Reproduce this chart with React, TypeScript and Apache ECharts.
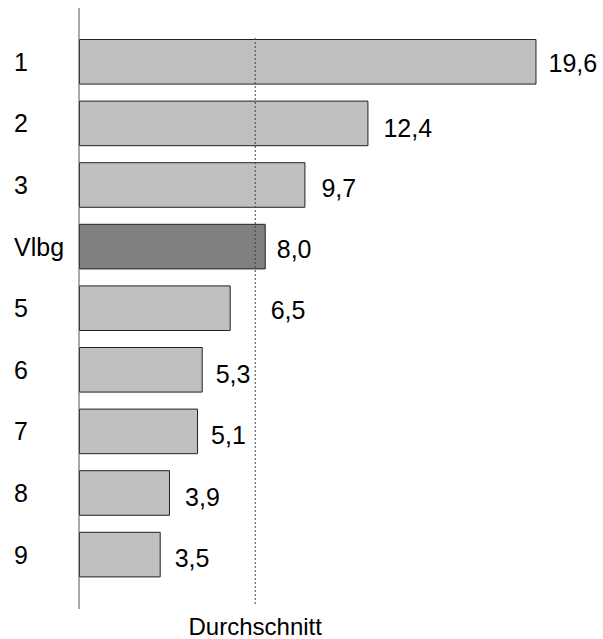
import { useEffect, useRef } from "react";
import * as echarts from "echarts";

const categories = ["1", "2", "3", "Vlbg", "5", "6", "7", "8", "9"];
const values = [19.6, 12.4, 9.7, 8.0, 6.5, 5.3, 5.1, 3.9, 3.5];
const highlightCategory = "Vlbg";
const averageValue = 7.55;
const averageLabel = "Durchschnitt";
const xMax = 22;

// label placement tweaks (px) to mimic the original layout
const labelOffsets: number[][] = [
  [12, 1], [15, 5], [16, 3], [11, 2], [40, 2], [13, 4], [13, 4], [15, 4], [14, 3],
];

const FONT = "'Liberation Sans', Arial, sans-serif";

export default function App() {
  const ref = useRef<HTMLDivElement>(null);
  useEffect(() => {
    if (!ref.current) return;
    const chart = echarts.init(ref.current, undefined, { renderer: "svg" });
    chart.setOption({
      animation: false,
      backgroundColor: "#ffffff",
      textStyle: { fontFamily: FONT },
      grid: { left: 79, right: 10.5, top: 31, bottom: 53.6, containLabel: false },
      xAxis: {
        type: "value",
        min: 0,
        max: xMax,
        show: false,
      },
      yAxis: {
        type: "category",
        inverse: true,
        data: categories,
        axisLine: { show: false },
        axisTick: { show: false },
        splitLine: { show: false },
        axisLabel: {
          align: "left",
          margin: 65,
          fontSize: 25,
          color: "#000",
          fontFamily: FONT,
        },
      },
      series: [
        {
          type: "bar",
          barWidth: "74%",
          data: values.map((v, i) => ({
            value: v,
            itemStyle: {
              color: categories[i] === highlightCategory ? "#808080" : "#c0c0c0",
              borderColor: "#222",
              borderWidth: 1,
            },
            label: { offset: labelOffsets[i] },
          })),
          label: {
            show: true,
            position: "right",
            distance: 0,
            fontSize: 25,
            color: "#000",
            fontFamily: FONT,
            formatter: (p: any) => Number(p.value).toFixed(1).replace(".", ","),
          },
        },
      ],
    });
    const x0 = chart.convertToPixel({ xAxisIndex: 0 }, 0) as number;
    const xa = chart.convertToPixel({ xAxisIndex: 0 }, averageValue) as number;
    chart.setOption({
      graphic: [
        {
          type: "line",
          shape: { x1: x0, y1: 8, x2: x0, y2: 609 },
          style: { stroke: "#555", lineWidth: 1 },
          z: 10,
        },
        {
          type: "line",
          shape: { x1: xa, y1: 38, x2: xa, y2: 606 },
          style: { stroke: "#444", lineWidth: 1, lineDash: [2, 2] },
          z: 10,
        },
        {
          type: "text",
          x: xa,
          y: 626.5,
          style: {
            text: averageLabel,
            fontSize: 24,
            fill: "#000",
            fontFamily: FONT,
            textAlign: "center",
            textVerticalAlign: "middle",
          },
          z: 10,
        },
      ],
    });
    return () => chart.dispose();
  }, []);
  return (
    <div
      ref={ref}
      style={{ position: "fixed", left: 0, top: 0, width: 603, height: 639 }}
    />
  );
}
